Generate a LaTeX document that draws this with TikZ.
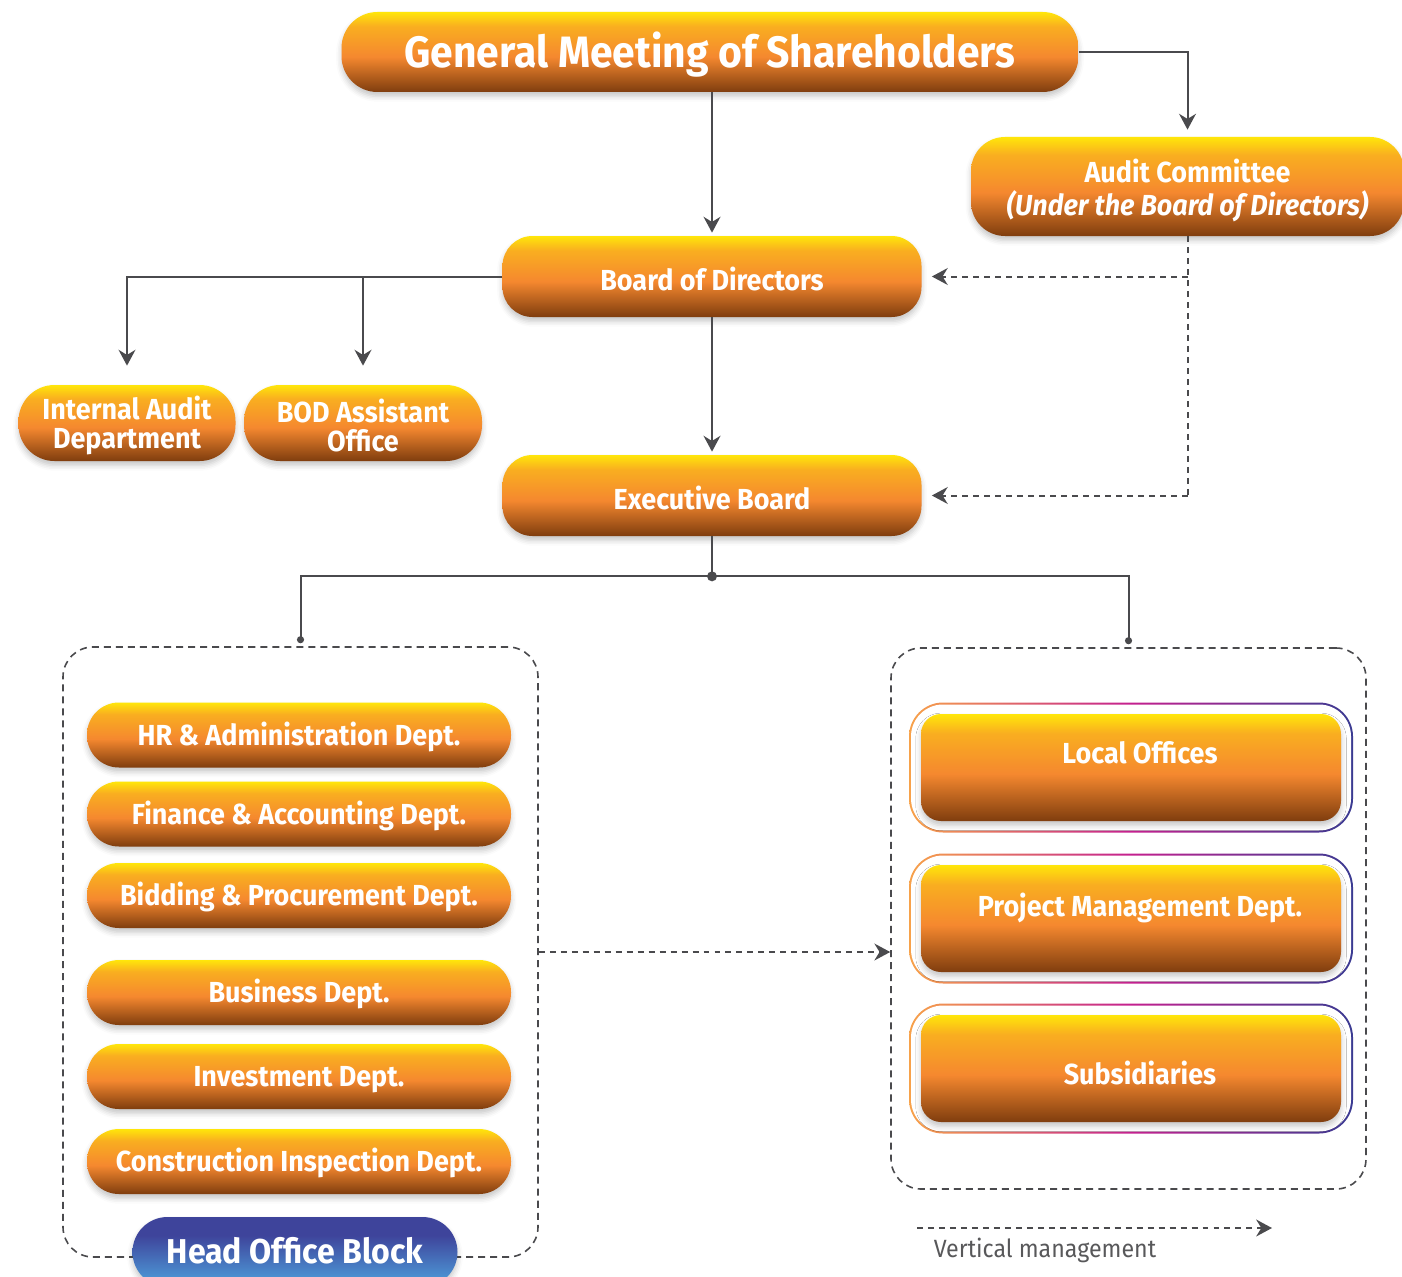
\documentclass[tikz,border=0pt]{standalone}
\usepackage{fontspec}
\setmainfont{Fira Sans}[FakeStretch=0.93]
\usetikzlibrary{arrows.meta,calc,positioning,shadows.blur}
\newlength\px
\setlength\px{0.02cm}
\definecolor{gyellow}{HTML}{FFE60A}
\definecolor{gamber}{HTML}{F9AE20}
\definecolor{gorange}{HTML}{F5882F}
\definecolor{gbrown}{HTML}{7F3D0E}
\definecolor{hblue}{HTML}{3E449B}
\definecolor{hsky}{HTML}{4FA3DE}
\definecolor{rorange}{HTML}{F7A24A}
\definecolor{rmagenta}{HTML}{C4208F}
\definecolor{rindigo}{HTML}{3A3B92}
\definecolor{linegray}{HTML}{4A4A4D}
\definecolor{lgray}{HTML}{58585A}
\pgfdeclareverticalshading{orggrad}{100bp}{color(0bp)=(gbrown); color(25bp)=(gbrown); color(47bp)=(gorange); color(66bp)=(gamber); color(75bp)=(gyellow); color(100bp)=(gyellow)}
\pgfdeclareverticalshading{bluegrad}{100bp}{color(0bp)=(hsky); color(25bp)=(hsky); color(62bp)=(hblue); color(100bp)=(hblue)}
\pgfdeclarehorizontalshading{rimgrad}{100bp}{color(0bp)=(rorange); color(25bp)=(rorange); color(50bp)=(rmagenta); color(75bp)=(rindigo); color(100bp)=(rindigo)}

\begin{document}
\begin{tikzpicture}[x=\px,y=-\px,>={Stealth[length=9pt,width=9.6pt]},
    conn/.style={draw=linegray,line width=2\px},
    dconn/.style={conn,dash pattern=on 3.4pt off 2.85pt},
    dot/.style={-{Circle[length=4pt]},shorten >=3\px},
    orgbox/.style={shading=orggrad,text=white,align=center,inner sep=0pt,font=\bfseries\fontsize{16.5}{19}\selectfont,
      blur shadow={shadow xshift=0pt,shadow yshift=-2.5pt,shadow blur radius=3pt,shadow opacity=22}},
    oneline/.style={text height=11.4pt,text depth=0pt},
    deptbox/.style={orgbox,oneline,minimum width=424\px,minimum height=65\px,rounded corners=32\px},
    boardbox/.style={orgbox,text height=15.4pt,text depth=0pt,minimum width=419\px,minimum height=81\px,rounded corners=30\px},
    unitbox/.style={orgbox,minimum width=420\px,minimum height=107\px,rounded corners=20\px},
    rimbox/.style={shading=rimgrad,inner sep=0pt,minimum width=444\px,minimum height=130\px,rounded corners=34\px},
    block/.style={draw=linegray,line width=1.6\px,dash pattern=on 4pt off 2.85pt,rounded corners=30\px,minimum width=475\px}]
  \useasboundingbox (0,0) rectangle (1402,1277);
  % top of the chart
  \node[orgbox,text height=17.2pt,text depth=0pt,minimum width=737\px,minimum height=80\px,rounded corners=36\px,font=\bfseries\fontsize{25}{30}\selectfont] (gms) at (710,52) {General Meeting of Shareholders};
  \node[orgbox,minimum width=433\px,minimum height=99\px,rounded corners=34\px,font=\bfseries\fontsize{16.5}{18.8}\selectfont] (audit) at (1187.5,186.5) {\rule{0pt}{18pt}Audit Committee\\\itshape(Under the Board of Directors)};
  \node[boardbox] (bod) at (712,276.5) {Board of Directors};
  \node[orgbox,minimum width=217\px,minimum height=76\px,rounded corners=36\px,font=\bfseries\fontsize{16.5}{16.5}\selectfont] (ia) at (127,423) {\rule{0pt}{16.5pt}Internal Audit\\Department};
  \node[orgbox,minimum width=238\px,minimum height=76\px,rounded corners=36\px,font=\bfseries\fontsize{16.5}{16.5}\selectfont] (boda) at (363,423) {\rule{0pt}{16.5pt}BOD Assistant\\Office};
  \node[boardbox] (eb) at (712,495.5) {Executive Board};
  % dashed blocks
  \node[block,minimum height=610\px] (hq) at (300.5,952) {};
  \node[block,minimum height=541\px] (br) at (1128.5,918.5) {};
  % head office departments
  \foreach \name/\y/\txt in {hr/735/HR \& Administration Dept.,fin/814/Finance \& Accounting Dept.,bid/895.5/Bidding \& Procurement Dept.,bus/992.5/Business Dept.,inv/1076.5/Investment Dept.,ci/1161.5/Construction Inspection Dept.}
    \node[deptbox] (\name) at (299,\y) {\txt};
  \node[orgbox,shading=bluegrad,text height=13.5pt,text depth=0pt,minimum width=325\px,minimum height=70\px,rounded corners=35\px,font=\bfseries\fontsize{19.6}{24}\selectfont] (hob) at (295,1252) {Head Office Block};
  % branch units
  \foreach \name/\y/\dy/\txt in {loc/767.5/-15/Local Offices,pmd/918.5/-11/Project Management Dept.,sub/1068.5/4/Subsidiaries}{
    \node[rimbox] (\name-rim) at (1131,\y) {};
    \node[fill=white,inner sep=0pt,minimum width=440\px,minimum height=126\px,rounded corners=32\px] (\name-gap) at (1131,\y) {};
    \node[unitbox] (\name) at (1131,\y) {};
    \node[text=white,font=\bfseries\fontsize{16.5}{19}\selectfont] (\name-txt) at ($(\name)+(9,\dy)$) {\txt};
  }
  % solid connectors
  \draw[conn,->,shorten >=3\px] (gms.south -| bod.north) -- (bod.north);
  \draw[conn,->,shorten >=7\px] (gms.east) -| (audit.north);
  \draw[conn,->,shorten >=19\px] (bod.west) -| (ia.north);
  \draw[conn,->,shorten >=19\px] (bod.west -| boda.north) -- (boda.north);
  \draw[conn,->,shorten >=3\px] (bod) -- (eb);
  \coordinate (split) at ($(eb.south)+(0,40)$);
  \draw[conn] (eb.south) -- (split);
  \draw[conn,dot] (split) -| (hq.north);
  \draw[conn,dot] (split) -| (br.north);
  \fill[linegray] (split) circle[radius=5\px];
  % dashed connectors
  \draw[dconn] (audit.south) -- (audit.south |- eb.east);
  \draw[dconn,->,shorten >=10\px] (audit.south |- bod.east) -- (bod.east);
  \draw[dconn,->,shorten >=10\px] (audit.south |- eb.east) -- (eb.east);
  \draw[dconn,->] (hq.east) -- (br.west |- hq.east);
  % legend
  \coordinate (lg-a) at (917,1228);
  \coordinate (lg-b) at (1272,1228);
  \draw[dconn,->] (lg-a) -- (lg-b);
  \node[text=lgray,font=\fontsize{14.2}{17}\selectfont] (lg-txt) at (1045,1250) {Vertical management};
\end{tikzpicture}
\end{document}
